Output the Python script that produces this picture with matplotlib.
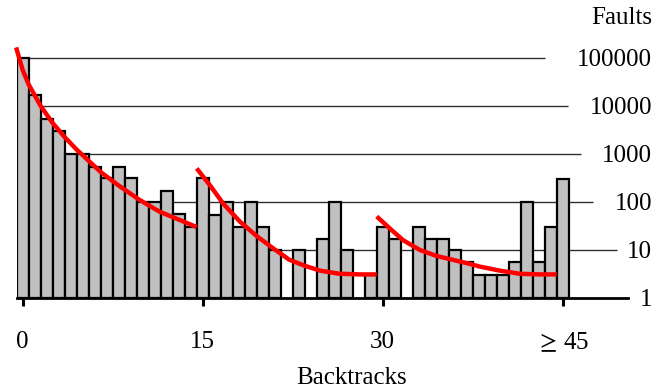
#!/usr/bin/env python3
"""Faults per backtrack count, log-scale bars with fitted trend curves."""

import matplotlib
matplotlib.use("Agg")
import matplotlib.pyplot as plt
import numpy as np

# bar data: number of faults for 0..44 backtracks, last bar is ">= 45"
backtracks = list(range(46))
faults = [
    100000, 17000, 5400, 3000, 1000, 1000, 540, 310, 540, 310,
    100, 100, 170, 55, 30, 310, 53, 100, 30, 100,
    30, 10, 0, 10, 0, 17, 100, 10, 0, 3,
    30, 17, 0, 30, 17, 17, 10, 5.5, 3, 3,
    3, 5.5, 100, 5.5, 30, 300,
]

# red trend curves
fit1_x = [-0.55, 0.0, 0.5, 1.5, 2.5, 3.5, 4.5, 5.5, 6.5,
          8.0, 9.75, 11.4, 13.1, 14.5]
fit1_y = [166000, 56000, 28000, 10000, 4400, 2250, 1230, 720, 420,
          220, 110, 63, 42, 30]
fit2_x = [14.5, 15.6, 16.7, 18.1, 19.5, 20.9, 22.2, 23.5, 24.8, 26.4,
          28.1, 29.5]
fit2_y = [500, 224, 93, 39, 19.5, 10.7, 6.3, 4.7, 3.7, 3.2, 3.1, 3.1]
fit3_x = [29.5, 30.6, 31.7, 33.1, 34.5, 35.9, 37.3, 38.1, 39.8, 41.4,
          43.1, 44.5]
fit3_y = [50, 28, 16, 10, 7.5, 6.2, 5.1, 4.5, 3.7, 3.2, 3.1, 3.1]

xtick_pos = [0, 15, 30, 45]
xtick_labels = ["0", "15", "30", r"$\geq\,$45"]
ytick_pos = [1, 10, 100, 1000, 10000, 100000]
ytick_labels = ["1", "10", "100", "1000", "10000", "100000"]

W, H = 668, 388


def main():
    plt.rcParams["font.family"] = ["Liberation Serif", "DejaVu Serif"]
    plt.rcParams["font.size"] = 18
    plt.rcParams["mathtext.fontset"] = "stix"

    fig = plt.figure(figsize=(W / 100, H / 100), dpi=100)
    # axes box in pixels: x 16.7..628, baseline at y=298, top at y=0
    ax = fig.add_axes([16.7 / W, (H - 298) / H, (628 - 16.7) / W, 298 / H])

    ax.set_yscale("log")
    ax.set_xlim(-0.5, 50.44)
    ax.set_ylim(1, 10 ** (298 / 48))

    # grid lines stop short of their labels, each at its own length
    grid_ends = [49.5, 47.5, 46.5, 45.4, 43.5]
    for yv, xe in zip(ytick_pos[1:], grid_ends):
        ax.plot([-0.5, xe], [yv, yv], color="#303030", lw=1.0,
                zorder=1, solid_capstyle="butt")

    x = np.array(backtracks)
    f = np.array(faults, dtype=float)
    keep = f > 0
    ax.bar(x[keep], f[keep] - 1, bottom=1, width=1.0,
           color="#c0c0c0", edgecolor="black", linewidth=1.6, zorder=2)

    for fx, fy in [(fit1_x, fit1_y), (fit2_x, fit2_y), (fit3_x, fit3_y)]:
        ax.plot(fx, fy, color="#ff0000", lw=3.2, zorder=3,
                solid_capstyle="butt", solid_joinstyle="round",
                clip_on=False)

    for s in ["top", "left", "right"]:
        ax.spines[s].set_visible(False)
    ax.spines["bottom"].set_linewidth(2.0)
    ax.spines["bottom"].set_zorder(4)

    ax.set_xticks(xtick_pos)
    ax.set_xticklabels(xtick_labels)
    ax.tick_params(axis="x", direction="out", length=5.5, width=2.2,
                   pad=18, labelsize=18)

    ax.yaxis.tick_right()
    ax.set_yticks(ytick_pos)
    ax.set_yticklabels(ytick_labels)
    ax.yaxis.set_minor_locator(matplotlib.ticker.NullLocator())
    ax.tick_params(axis="y", length=0, pad=17.3, labelsize=18)
    for lab in ax.get_yticklabels():
        lab.set_horizontalalignment("right")

    fig.text(652 / W, (H - 24) / H, "Faults", ha="right",
             va="baseline", fontsize=18)
    fig.text(352 / W, (H - 384) / H, "Backtracks", ha="center",
             va="baseline", fontsize=18)

    fig.savefig("out.png", dpi=100)


if __name__ == "__main__":
    main()
